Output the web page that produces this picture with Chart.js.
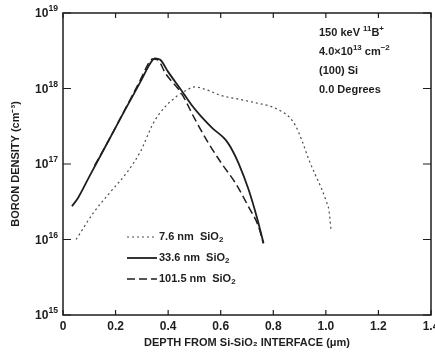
<!DOCTYPE html>
<html>
<head>
<meta charset="utf-8">
<script src="https://cdn.jsdelivr.net/npm/chart.js@4/dist/chart.umd.min.js"></script>
<style>
  html, body { margin: 0; padding: 0; background: #fff; }
  #chart { display: block; }
</style>
</head>
<body>
<canvas id="chart" width="435" height="363"></canvas>
<script>
// depth (um) and boron density (cm^-3)
const depth76 = [0.05, 0.115, 0.179, 0.244, 0.294, 0.344, 0.39, 0.427, 0.47, 0.50, 0.55, 0.60, 0.67, 0.73, 0.79, 0.83, 0.86, 0.885, 0.91, 0.935, 0.96, 0.985, 1.0, 1.012, 1.02];
const boron76 = [1.0e16, 2.24e16, 4.2e16, 7.8e16, 1.45e17, 3.5e17, 5.8e17, 7.6e17, 9.5e17, 1.05e18, 9.5e17, 8.1e17, 7.2e17, 6.5e17, 5.8e17, 5.0e17, 4.2e17, 3.2e17, 2.0e17, 1.15e17, 7.2e16, 4.6e16, 3.3e16, 2.4e16, 1.3e16];

const depth336 = [0.034, 0.057, 0.10, 0.172, 0.236, 0.298, 0.33, 0.35, 0.37, 0.40, 0.45, 0.49, 0.527, 0.57, 0.618, 0.645, 0.668, 0.706, 0.737, 0.763];
const boron336 = [2.75e16, 3.55e16, 6.8e16, 2.0e17, 5.2e17, 1.29e18, 2.1e18, 2.5e18, 2.4e18, 1.66e18, 9.5e17, 6.0e17, 4.2e17, 2.95e17, 2.1e17, 1.5e17, 1.02e17, 4.6e16, 2.0e16, 8.9e15];

const depth1015 = [0.12, 0.172, 0.236, 0.298, 0.32, 0.34, 0.36, 0.39, 0.45, 0.504, 0.553, 0.603, 0.656, 0.706, 0.744, 0.762];
const boron1015 = [9.5e16, 2.0e17, 5.3e17, 1.38e18, 2.0e18, 2.45e18, 2.4e18, 1.58e18, 8.7e17, 3.8e17, 1.9e17, 1.02e17, 5.6e16, 2.7e16, 1.48e16, 8.9e15];

const seriesLabels = ["7.6 nm  SiO_{2}", "33.6 nm  SiO_{2}", "101.5 nm  SiO_{2}"];
const xTicks = [0, 0.2, 0.4, 0.6, 0.8, 1.0, 1.2, 1.4];
const yTicks = [1e15, 1e16, 1e17, 1e18, 1e19];
const noteLines = ["150 keV ^{11}B^{+}", "4.0\u00d710^{13} cm^{\u22122}", "(100) Si", "0.0 Degrees"];

const FONT = "'Liberation Sans Narrow', 'Liberation Sans', Arial, sans-serif";
const INK = "#1e1e1e";

const toPoints = (xs, ys) => xs.map((x, i) => ({ x: x, y: ys[i] }));

// draws "a^{b}_{c}" style text; align "left" or "right"
function drawRich(ctx, text, x, y, size, align) {
   const parts = text.split(/(\^\{[^}]*\}|_\{[^}]*\})/).filter((p) => p.length);
   const pieces = parts.map((p) => {
      if (p[0] === "^") return { t: p.slice(2, -1), size: size * 0.72, dy: -size * 0.42 };
      if (p[0] === "_") return { t: p.slice(2, -1), size: size * 0.72, dy: size * 0.3 };
      return { t: p, size: size, dy: 0 };
   });
   let total = 0;
   pieces.forEach((p) => {
      ctx.font = "bold " + p.size + "px " + FONT;
      p.w = ctx.measureText(p.t).width;
      total += p.w;
   });
   let cx = align === "right" ? x - total : x;
   ctx.textAlign = "left";
   ctx.textBaseline = "middle";
   pieces.forEach((p) => {
      ctx.font = "bold " + p.size + "px " + FONT;
      ctx.fillText(p.t, cx, y + p.dy);
      cx += p.w;
   });
}

const styles = [
   { color: "#4a4a4a", width: 1.2, dash: [2, 3] },
   { color: INK, width: 1.8, dash: [] },
   { color: INK, width: 1.5, dash: [8, 4] },
];

// frame, inward ticks, y labels with exponents, in-plot legend and the implant note
const decorations = {
   id: "decorations",
   afterDraw(chart) {
      const { ctx, chartArea: a, scales } = chart;
      ctx.save();
      ctx.strokeStyle = INK;
      ctx.lineWidth = 1.5;
      ctx.strokeRect(a.left, a.top, a.right - a.left, a.bottom - a.top);

      ctx.lineWidth = 1.2;
      ctx.beginPath();
      xTicks.forEach((v) => {
         const px = scales.x.getPixelForValue(v);
         ctx.moveTo(px, a.bottom);
         ctx.lineTo(px, a.bottom - 5);
         ctx.moveTo(px, a.top);
         ctx.lineTo(px, a.top + 5);
      });
      yTicks.forEach((v) => {
         const py = scales.y.getPixelForValue(v);
         ctx.moveTo(a.left, py);
         ctx.lineTo(a.left + 8, py);
         ctx.moveTo(a.right, py);
         ctx.lineTo(a.right - 8, py);
      });
      ctx.stroke();

      ctx.fillStyle = INK;
      yTicks.forEach((v) => {
         const py = scales.y.getPixelForValue(v);
         drawRich(ctx, "10^{" + Math.round(Math.log10(v)) + "}", a.left - 5, py + 1, 12, "right");
      });

      // legend
      const lx = a.left + 64;
      seriesLabels.forEach((label, i) => {
         const ly = a.top + 224 + i * 21;
         const s = styles[i];
         ctx.strokeStyle = s.color;
         ctx.lineWidth = s.width;
         ctx.setLineDash(s.dash);
         ctx.beginPath();
         ctx.moveTo(lx, ly);
         ctx.lineTo(lx + 30, ly);
         ctx.stroke();
         ctx.setLineDash([]);
         drawRich(ctx, label, lx + 32, ly, 11, "left");
      });

      // note
      const nx = a.left + 256;
      noteLines.forEach((t, i) => {
         drawRich(ctx, t, nx, a.top + 20 + i * 19, 11, "left");
      });
      ctx.restore();
   },
};

new Chart(document.getElementById("chart"), {
   type: "scatter",
   data: {
      datasets: [
         { label: seriesLabels[0], data: toPoints(depth76, boron76) },
         { label: seriesLabels[1], data: toPoints(depth336, boron336) },
         { label: seriesLabels[2], data: toPoints(depth1015, boron1015) },
      ].map((d, i) => ({
         ...d,
         showLine: true,
         borderColor: styles[i].color,
         borderWidth: styles[i].width,
         borderDash: styles[i].dash,
         pointRadius: 0,
         cubicInterpolationMode: "monotone",
         fill: false,
      })),
   },
   options: {
      responsive: false,
      animation: false,
      layout: { padding: { top: 13, right: 4, left: 0, bottom: 0 } },
      plugins: {
         legend: { display: false },
         tooltip: { enabled: false },
      },
      scales: {
         x: {
            type: "linear",
            min: 0,
            max: 1.4,
            afterBuildTicks: (scale) => {
               scale.ticks = xTicks.map((v) => ({ value: v }));
            },
            afterFit: (scale) => {
               scale.height = 48;
               scale.paddingLeft = 0;
               scale.paddingRight = 0;
            },
            grid: { display: false, drawTicks: false },
            border: { display: false },
            ticks: {
               color: INK,
               padding: 4,
               maxRotation: 0,
               font: { family: FONT, size: 12, weight: "bold" },
               callback: (v) => (v === 0 ? "0" : v.toFixed(1)),
            },
            title: {
               display: true,
               text: "DEPTH FROM Si-SiO\u2082 INTERFACE (\u03bcm)",
               color: INK,
               padding: { top: 2, bottom: 13 },
               font: { family: FONT, size: 11, weight: "bold" },
            },
         },
         y: {
            type: "logarithmic",
            min: 1e15,
            max: 1e19,
            afterBuildTicks: (scale) => {
               scale.ticks = yTicks.map((v) => ({ value: v }));
            },
            afterFit: (scale) => {
               scale.width = 63;
            },
            grid: { display: false, drawTicks: false },
            border: { display: false },
            ticks: { display: false },
            title: {
               display: true,
               text: "BORON DENSITY (cm\u207b\u00b3)",
               color: INK,
               padding: { top: 9, bottom: 0 },
               font: { family: FONT, size: 11, weight: "bold" },
            },
         },
      },
   },
   plugins: [decorations],
});
</script>
</body>
</html>
